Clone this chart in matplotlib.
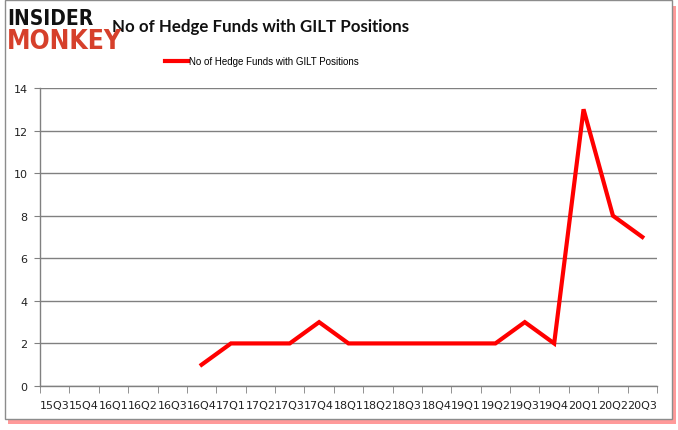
import matplotlib
matplotlib.use("Agg")
import matplotlib.pyplot as plt
from matplotlib.patches import Rectangle
import numpy as np

quarters = ["15Q3", "15Q4", "16Q1", "16Q2", "16Q3", "16Q4", "17Q1", "17Q2", "17Q3",
            "17Q4", "18Q1", "18Q2", "18Q3", "18Q4", "19Q1", "19Q2", "19Q3", "19Q4",
            "20Q1", "20Q2", "20Q3"]
funds = [np.nan, np.nan, np.nan, np.nan, np.nan, 1, 2, 2, 2, 3, 2, 2, 2, 2, 2, 2, 3, 2, 13, 8, 7]
series_name = "No of Hedge Funds with GILT Positions"
title = "No of Hedge Funds with GILT Positions"
yticks = [0, 2, 4, 6, 8, 10, 12, 14]

W, H = 678, 431
fig = plt.figure(figsize=(W / 100, H / 100), dpi=100)

# outer frame with red shadow
fig.patches.append(Rectangle((8 / W, 1 - 425 / H), 668 / W, 418 / H, transform=fig.transFigure,
                             facecolor="#ff9a9a", edgecolor="none", zorder=-3))
fig.patches.append(Rectangle((5 / W, 1 - 420 / H), 667 / W, 419 / H, transform=fig.transFigure,
                             facecolor="white", edgecolor="#8c8c8c", linewidth=1.0, zorder=-2))

ax = fig.add_axes([40 / W, 1 - 387 / H, (657 - 40) / W, (387 - 89) / H])
x = np.arange(len(quarters))
ax.plot(x, funds, color="#ff0000", linewidth=3.0, solid_joinstyle="miter", label=series_name)
ax.set_xlim(-0.5, len(quarters) - 0.5)
ax.set_ylim(0, 14)
ax.set_yticks(yticks)
ax.set_yticklabels([str(v) for v in yticks], fontsize=8, color="#222222")
ax.set_xticks(x)
ax.set_xticklabels(quarters, fontsize=8, color="#222222")
ax.set_xticks(np.arange(-0.5, len(quarters), 1), minor=True)
ax.tick_params(axis="x", which="major", length=0, pad=10)
ax.tick_params(axis="x", which="minor", length=5, color="#808080", direction="out")
ax.tick_params(axis="y", length=4, color="#808080", pad=5)
ax.yaxis.grid(True, color="#808080", linewidth=1.0)
ax.set_axisbelow(True)
for s in ["top", "right"]:
    ax.spines[s].set_visible(False)
for s in ["left", "bottom"]:
    ax.spines[s].set_color("#808080")
    ax.spines[s].set_linewidth(1.0)

# title
fig.text(261 / W, 1 - 27 / H, title, fontsize=12.2, fontweight="bold", ha="center", va="center",
         family="Lato", color="#111111")

# legend
leg = fig.legend(loc="center", bbox_to_anchor=(262 / W, 1 - 62 / H), frameon=False,
                 prop={"family": "Liberation Sans", "size": 7},
                 handlelength=2.3, handletextpad=0.1)

# logo
fig.text(7 / W, 1 - 19 / H, "INSIDER", fontsize=15, fontweight="heavy", family="DejaVu Sans",
         fontstretch="condensed", color="#111111", ha="left", va="center")
fig.text(7 / W, 1 - 42 / H, "MONKEY", fontsize=19, fontweight="heavy", family="DejaVu Sans",
         fontstretch="condensed", color="#d6402b", ha="left", va="center")

fig.savefig("out.png", dpi=100)
